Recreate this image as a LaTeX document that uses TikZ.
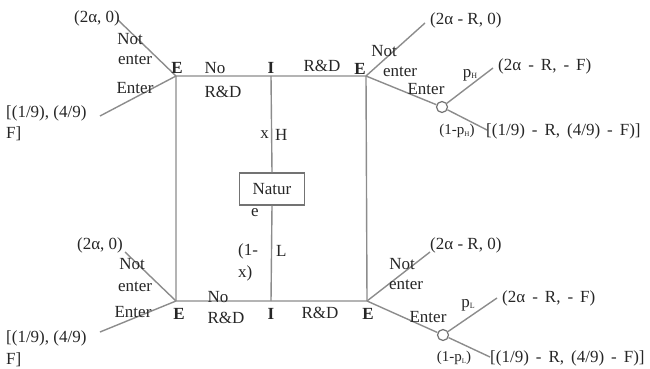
\documentclass[tikz,border=0pt]{standalone}
\usepackage{fontspec}
\setmainfont{Liberation Serif}
% payoff vectors are set with wider word spaces
\newcommand\payoffspacing{\spaceskip 7pt\relax}
\begin{document}
\begin{tikzpicture}[x=1pt,y=-1pt,
  every node/.style={inner sep=0pt, text=black!85, font=\fontsize{17}{21}\selectfont},
  branch/.style={draw=black!45, line width=1.4pt},
  widepay/.style={font=\fontsize{17}{21}\selectfont\payoffspacing},
  prob/.style={font=\fontsize{15}{18}\selectfont},
  player/.style={font=\fontsize{17}{21}\selectfont\bfseries},
  chance/.style={circle, draw=black!55, line width=1.2pt, fill=white, minimum size=11pt},
  naturebox/.style={draw=black!55, line width=1.4pt, minimum width=65pt, minimum height=32pt}]
\useasboundingbox (0,0) rectangle (650,369);

% decision points of the two-stage game
\coordinate (TL) at (176,76);
\coordinate (TM) at (271,76);
\coordinate (TR) at (366,76);
\coordinate (BL) at (176,301);
\coordinate (BM) at (271,301);
\coordinate (BR) at (367,301);
\node[naturebox] (nat) at (272,189) {Natur};

% free ends of the terminal branches
\coordinate (tlN) at (118,20);
\coordinate (tlE) at (100,116);
\coordinate (blN) at (125,252);
\coordinate (blE) at (100,332);
\coordinate (trN) at (425,23);
\coordinate (trU) at (493,68);
\coordinate (trD) at (487,130);
\coordinate (brN) at (430,252);
\coordinate (brU) at (497,298);
\coordinate (brD) at (490,357);
\node[chance] (cH) at (442,107) {};
\node[chance] (cL) at (443,335) {};

% investment frame
\draw[branch] (TL) -- (TM) -- (TR) -- (BR) -- (BM) -- (BL) -- cycle;
\draw[branch] (TM) -- (nat.north);
\draw[branch] (nat.south) -- (BM);

% entry branches
\draw[branch] (TL) -- (tlN);
\draw[branch] (TL) -- (tlE);
\draw[branch] (BL) -- (blN);
\draw[branch] (BL) -- (blE);
\draw[branch] (TR) -- (trN);
\draw[branch] (TR) -- (cH);
\draw[branch] (cH) -- (trU);
\draw[branch] (cH) -- (trD);
\draw[branch] (BR) -- (brN);
\draw[branch] (BR) -- (cL);
\draw[branch] (cL) -- (brU);
\draw[branch] (cL) -- (brD);

% players
\node[player] (eTL) at (177,68) {E};
\node[player] (iT) at (271,68) {I};
\node[player] (eTR) at (360,69) {E};
\node[player] (eBL) at (179,314) {E};
\node[player] (iB) at (271,314) {I};
\node[player] (eBR) at (368,314) {E};

% actions along the frame
\node (noT) at (215,68) {No};
\node (rdT1) at (223,92) {R\&D};
\node (rdT2) at (322,66) {R\&D};
\node (noB) at (218,297) {No};
\node (rdB1) at (226,318) {R\&D};
\node (rdB2) at (320,313) {R\&D};
\node[anchor=east] (xH) at (269,135) {x};
\node[anchor=west] (hH) at (275,135) {H};
\node (eNat) at (255,213) {e};
\node[anchor=west] (oneL) at (238,251) {(1-};
\node[anchor=west] (xL) at (238,273) {x)};
\node[anchor=west] (lL) at (276,251) {L};

% left payoffs and labels
\node (pTL) at (97,18) {(2α, 0)};
\node (notTL) at (130,39) {Not};
\node (entTL) at (135,60) {enter};
\node (EnTL) at (135,88) {Enter};
\node[anchor=west] (qTL1) at (6,113) {[(1/9), (4/9)};
\node[anchor=west] (qTL2) at (6,134) {F]};
\node (pBL) at (100,245) {(2α, 0)};
\node (notBL) at (132,264) {Not};
\node (entBL) at (135,287) {enter};
\node (EnBL) at (133,312) {Enter};
\node[anchor=west] (qBL1) at (6,338) {[(1/9), (4/9)};
\node[anchor=west] (qBL2) at (6,360) {F]};

% right payoffs and labels
\node[anchor=west] (pTR) at (430,20) {(2α - R, 0)};
\node (notTR) at (384,51) {Not};
\node (entTR) at (400,72) {enter};
\node (EnTR) at (426,89) {Enter};
\node (prH) at (470,75) {p{\fontsize{8}{8}\selectfont\raisebox{-1.5pt}{H}}};
\node[anchor=west, widepay] (pTR2) at (498,66) {(2α - R, - F)};
\node[prob] (qH) at (457,131) {(1-p{\fontsize{7}{7}\selectfont\raisebox{-1.5pt}{H}})};
\node[anchor=west, widepay] (pTR3) at (486,131) {[(1/9) - R, (4/9) - F)]};
\node[anchor=west] (pBR) at (430,245) {(2α - R, 0)};
\node (notBR) at (402,264) {Not};
\node (entBR) at (406,285) {enter};
\node (EnBR) at (428,317) {Enter};
\node (prL) at (468,305) {p{\fontsize{8}{8}\selectfont\raisebox{-1.5pt}{L}}};
\node[anchor=west, widepay] (pBR2) at (502,298) {(2α - R, - F)};
\node[prob] (qL) at (454,358) {(1-p{\fontsize{7}{7}\selectfont\raisebox{-1.5pt}{L}})};
\node[anchor=west, widepay] (pBR3) at (490,358) {[(1/9) - R, (4/9) - F)]};
\end{tikzpicture}
\end{document}
